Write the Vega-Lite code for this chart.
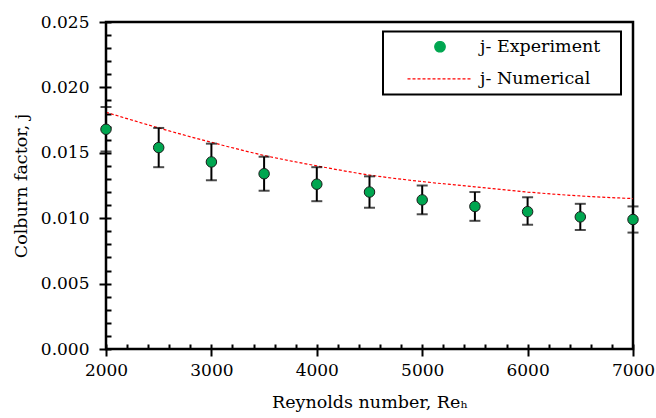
{
  "$schema": "https://vega.github.io/schema/vega-lite/v6.json",
  "width": 527,
  "height": 327,
  "autosize": {"type": "none"},
  "padding": {"left": 106, "top": 22, "right": 23, "bottom": 69},
  "background": "white",
  "config": {
    "font": "DejaVu Serif",
    "view": {"stroke": "black", "strokeWidth": 2.5},
    "axis": {
      "labelFont": "DejaVu Serif",
      "labelFontSize": 17,
      "labelColor": "black",
      "titleFont": "DejaVu Serif",
      "titleFontSize": 17.5,
      "titleFontWeight": "normal",
      "titleColor": "black",
      "domain": false,
      "tickColor": "black",
      "tickWidth": 2,
      "grid": false,
      "labelFlush": false,
      "labelOverlap": false
    },
    "legend": {
      "labelFont": "DejaVu Serif",
      "labelFontSize": 17.5,
      "labelColor": "black"
    }
  },
  "datasets": {
    "experiment": [
      {"Re": 2000, "j": 0.0168, "jmin": 0.0151, "jmax": 0.0185, "series": "j- Experiment"},
      {"Re": 2500, "j": 0.0154, "jmin": 0.0139, "jmax": 0.0169, "series": "j- Experiment"},
      {"Re": 3000, "j": 0.0143, "jmin": 0.0129, "jmax": 0.0157, "series": "j- Experiment"},
      {"Re": 3500, "j": 0.0134, "jmin": 0.0121, "jmax": 0.0147, "series": "j- Experiment"},
      {"Re": 4000, "j": 0.0126, "jmin": 0.0113, "jmax": 0.0139, "series": "j- Experiment"},
      {"Re": 4500, "j": 0.0120, "jmin": 0.0108, "jmax": 0.0132, "series": "j- Experiment"},
      {"Re": 5000, "j": 0.0114, "jmin": 0.0103, "jmax": 0.0125, "series": "j- Experiment"},
      {"Re": 5500, "j": 0.0109, "jmin": 0.0098, "jmax": 0.0120, "series": "j- Experiment"},
      {"Re": 6000, "j": 0.0105, "jmin": 0.0095, "jmax": 0.0116, "series": "j- Experiment"},
      {"Re": 6500, "j": 0.0101, "jmin": 0.0091, "jmax": 0.0111, "series": "j- Experiment"},
      {"Re": 7000, "j": 0.0099, "jmin": 0.0089, "jmax": 0.0109, "series": "j- Experiment"}
    ],
    "numerical": [
      {"Re": 2000, "j": 0.0181, "series": "j- Numerical"},
      {"Re": 2500, "j": 0.0169, "series": "j- Numerical"},
      {"Re": 3000, "j": 0.0158, "series": "j- Numerical"},
      {"Re": 3500, "j": 0.0148, "series": "j- Numerical"},
      {"Re": 4000, "j": 0.0140, "series": "j- Numerical"},
      {"Re": 4500, "j": 0.0133, "series": "j- Numerical"},
      {"Re": 5000, "j": 0.0128, "series": "j- Numerical"},
      {"Re": 5500, "j": 0.0124, "series": "j- Numerical"},
      {"Re": 6000, "j": 0.0120, "series": "j- Numerical"},
      {"Re": 6500, "j": 0.0117, "series": "j- Numerical"},
      {"Re": 7000, "j": 0.0115, "series": "j- Numerical"}
    ]
  },
  "resolve": {"axis": {"x": "independent", "y": "independent"}},
  "layer": [
    {
      "data": {"name": "numerical"},
      "mark": {"type": "line", "strokeDash": [3, 2], "strokeWidth": 1.2, "interpolate": "monotone"},
      "encoding": {
        "x": {
          "field": "Re", "type": "quantitative",
          "scale": {"domain": [2000, 7000], "nice": false},
          "axis": {
            "orient": "bottom",
            "values": [2000, 3000, 4000, 5000, 6000, 7000],
            "format": "d",
            "labelOverlap": false,
            "labelFlush": false,
            "offset": -5,
            "tickSize": 12,
            "labelPadding": 6,
            "title": "Reynolds number, Reₕ",
            "titlePadding": 15
          }
        },
        "y": {
          "field": "j", "type": "quantitative",
          "scale": {"domain": [0, 0.025], "nice": false, "zero": false},
          "axis": {
            "orient": "left",
            "values": [0, 0.005, 0.01, 0.015, 0.02, 0.025],
            "format": ".3f",
            "labelOverlap": false,
            "offset": -5,
            "tickSize": 12,
            "labelPadding": 10,
            "title": "Colburn factor, j",
            "titlePadding": 10
          }
        },
        "color": {
          "field": "series", "type": "nominal",
          "scale": {"domain": ["j- Experiment", "j- Numerical"], "range": ["#00a650", "#ff0000"]},
          "legend": {
            "title": "\u00a0",
            "titleOrient": "right",
            "titlePadding": 14,
            "titleFont": "DejaVu Serif",
            "titleFontSize": 17.5,
            "orient": "none",
            "legendX": 277,
            "legendY": 9.5,
            "strokeColor": "black",
            "padding": 6.5,
            "rowPadding": 13.2,
            "symbolOffset": 41.75,
            "labelOffset": 31.25,
            "encode": {
              "symbols": {
                "update": {
                  "shape": {"signal": "datum.value === 'j- Numerical' ? 'stroke' : 'circle'"},
                  "size": {"signal": "datum.value === 'j- Numerical' ? 4225 : 110"},
                  "fill": {"signal": "datum.value === 'j- Numerical' ? 'transparent' : '#00a650'"},
                  "stroke": {"signal": "datum.value === 'j- Numerical' ? '#ff0000' : '#1a1a1a'"},
                  "strokeWidth": {"value": 1.2},
                  "strokeDash": {"signal": "datum.value === 'j- Numerical' ? [3, 2] : [1, 0]"},
                  "opacity": {"value": 1}
                }
              },
              "legend": {"update": {"strokeWidth": {"value": 2}}}
            }
          }
        }
      }
    },
    {
      "data": {"name": "experiment"},
      "mark": {"type": "errorbar", "color": "black", "thickness": 2, "ticks": {"size": 11, "thickness": 2, "color": "black"}},
      "encoding": {
        "x": {"field": "Re", "type": "quantitative", "axis": null},
        "y": {"field": "jmin", "type": "quantitative", "axis": null},
        "y2": {"field": "jmax"}
      }
    },
    {
      "data": {"name": "experiment"},
      "mark": {"type": "point", "filled": true, "size": 110, "stroke": "#1a1a1a", "strokeWidth": 1, "opacity": 1},
      "encoding": {
        "x": {
          "field": "Re", "type": "quantitative",
          "axis": {
            "orient": "bottom",
            "values": [2200, 2400, 2600, 2800, 3200, 3400, 3600, 3800, 4200, 4400, 4600, 4800, 5200, 5400, 5600, 5800, 6200, 6400, 6600, 6800],
            "labels": false,
            "domain": false,
            "offset": -5,
            "tickSize": 5,
            "title": null
          }
        },
        "y": {
          "field": "j", "type": "quantitative",
          "axis": {
            "orient": "left",
            "values": [0.001, 0.002, 0.003, 0.004, 0.006, 0.007, 0.008, 0.009, 0.011, 0.012, 0.013, 0.014, 0.016, 0.017, 0.018, 0.019, 0.021, 0.022, 0.023, 0.024],
            "labels": false,
            "domain": false,
            "offset": -5,
            "tickSize": 5,
            "title": null
          }
        },
        "color": {"field": "series", "type": "nominal"}
      }
    }
  ]
}
